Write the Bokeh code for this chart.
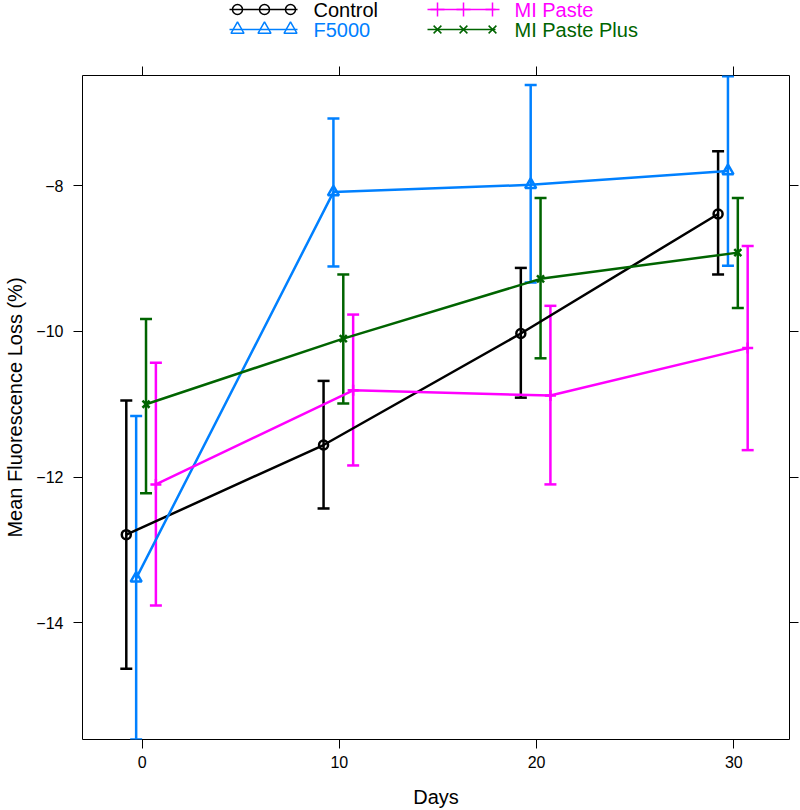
from bokeh.plotting import figure
from bokeh.models import ColumnDataSource, Range1d, Whisker, TeeHead, LinearAxis, FixedTicker
from bokeh.layouts import column
from bokeh.embed import file_html
from bokeh.resources import INLINE
from bokeh.core.properties import value

# ---------------- data ----------------
days = [0, 10, 20, 30]
series_names = ["Control", "F5000", "MI Paste", "MI Paste Plus"]
series_colors = ["#000000", "#0080ff", "#ff00ff", "#006400"]
series_markers = ["circle", "triangle", "cross", "x"]
dodge = [-0.8, -0.3, 0.7, 0.2]

control_mean = [-12.79, -11.56, -10.03, -8.39]
control_lower = [-14.63, -12.43, -10.91, -9.22]
control_upper = [-10.95, -10.68, -9.13, -7.53]

f5000_mean = [-13.39, -8.09, -7.99, -7.80]
f5000_lower = [-15.60, -9.11, -9.33, -9.10]
f5000_upper = [-11.16, -7.08, -6.62, -6.50]

paste_mean = [-12.10, -10.81, -10.88, -10.23]
paste_lower = [-13.76, -11.84, -12.10, -11.63]
paste_upper = [-10.43, -9.77, -9.65, -8.83]

plus_mean = [-11.00, -10.10, -9.28, -8.92]
plus_lower = [-12.22, -10.99, -10.37, -9.68]
plus_upper = [-9.83, -9.22, -8.17, -8.17]

means = [control_mean, f5000_mean, paste_mean, plus_mean]
lowers = [control_lower, f5000_lower, paste_lower, plus_lower]
uppers = [control_upper, f5000_upper, paste_upper, plus_upper]

x_ticks = [0, 10, 20, 30]
y_ticks = [-14, -12, -10, -8]
y_tick_labels = ["\u221214", "\u221212", "\u221210", "\u22128"]

FONT = "Liberation Sans"

W = 800
LEG_H = 48
MAIN_H = 762
B_LEFT, B_RIGHT, B_TOP, B_BOTTOM = 82, 11, 27, 70

# ---------------- main plot ----------------
p = figure(width=W, height=MAIN_H,
           x_range=Range1d(-3.02, 32.82), y_range=Range1d(-15.60, -6.49),
           output_backend="svg", toolbar_location=None,
           x_axis_location=None, y_axis_location=None,
           min_border_left=B_LEFT, min_border_right=B_RIGHT,
           min_border_top=B_TOP, min_border_bottom=B_BOTTOM)
p.grid.grid_line_color = None
p.outline_line_color = "black"
p.outline_line_width = 1
p.background_fill_color = "white"
p.border_fill_color = "white"


def style_axis(ax, ticks, show_labels):
    ax.ticker = FixedTicker(ticks=ticks)
    ax.axis_line_color = None
    ax.major_tick_out = 9
    ax.major_tick_in = 0
    ax.minor_tick_out = 0
    ax.minor_tick_in = 0
    ax.major_tick_line_color = "black"
    ax.major_tick_line_width = 1
    ax.major_label_text_font = FONT
    ax.major_label_text_color = "black"
    ax.axis_label_text_color = "black"
    if show_labels:
        ax.major_label_text_font_size = "16px"
    else:
        ax.major_label_overrides = {t: "" for t in ticks}
        ax.major_label_text_font_size = "1px"
        ax.major_label_standoff = 0


xb = LinearAxis(axis_label="Days")
style_axis(xb, x_ticks, True)
xb.major_label_standoff = 7
xb.axis_label_text_font = FONT
xb.axis_label_text_font_size = "20px"
xb.axis_label_text_font_style = "normal"
xb.axis_label_standoff = 15
p.add_layout(xb, "below")

yl = LinearAxis(axis_label="Mean Fluorescence Loss (%)")
style_axis(yl, y_ticks, True)
yl.major_label_overrides = {t: s for t, s in zip(y_ticks, y_tick_labels)}
yl.major_label_standoff = 10
yl.axis_label_text_font = FONT
yl.axis_label_text_font_size = "20px"
yl.axis_label_text_font_style = "normal"
yl.axis_label_standoff = 7
p.add_layout(yl, "left")

xt = LinearAxis()
style_axis(xt, x_ticks, False)
p.add_layout(xt, "above")

yr = LinearAxis()
style_axis(yr, y_ticks, False)
p.add_layout(yr, "right")

for name, col, mk, dx, m, lo, up in zip(series_names, series_colors, series_markers,
                                         dodge, means, lowers, uppers):
    src = ColumnDataSource(dict(x=[d + dx for d in days], y=m, lower=lo, upper=up))
    p.line("x", "y", source=src, line_color=col, line_width=2.5)
    w = Whisker(source=src, base="x", upper="upper", lower="lower", dimension="height",
                line_color=col, line_width=2.5,
                upper_head=TeeHead(size=12, line_color=col, line_width=2.5),
                lower_head=TeeHead(size=12, line_color=col, line_width=2.5))
    p.add_layout(w)
    size = {"circle": 9, "triangle": 11, "cross": 11, "x": 10}[mk]
    p.scatter("x", "y", source=src, marker=mk, size=size, line_color=col,
              fill_color=None, line_width=2.5)

# ---------------- legend (key on top) ----------------
# legend panel uses a pixel coordinate system whose frame matches the main frame
lf = figure(width=W, height=LEG_H,
            x_range=Range1d(B_LEFT, W - B_RIGHT), y_range=Range1d(LEG_H, 0),
            output_backend="svg", toolbar_location=None,
            x_axis_location=None, y_axis_location=None,
            min_border_left=B_LEFT, min_border_right=B_RIGHT,
            min_border_top=0, min_border_bottom=0)
lf.grid.grid_line_color = None
lf.outline_line_color = None

col_line_x0 = [229, 427]
col_line_x1 = [297, 495]
col_marks = [[237, 264, 290], [437, 463, 492]]
col_text_x = [313, 514]
row_y = [9, 29]
legend_pos = [(0, 0), (0, 1), (1, 0), (1, 1)]
legend_sizes = {"circle": 10, "triangle": 13, "cross": 14, "x": 11}

for name, col, mk, (c, r) in zip(series_names, series_colors, series_markers, legend_pos):
    y = row_y[r]
    lf.line([col_line_x0[c], col_line_x1[c]], [y, y], line_color=col, line_width=1.5)
    lf.scatter(col_marks[c], [y] * 3, marker=mk, size=legend_sizes[mk],
               line_color=col, fill_color=None, line_width=1.5)
    lf.text([col_text_x[c]], [y], text=[name], text_font=value(FONT),
            text_font_size="20px", text_baseline="middle", text_align="left",
            text_color=col)

layout = column(lf, p, spacing=0)
open("out.html", "w").write(file_html(layout, INLINE))
